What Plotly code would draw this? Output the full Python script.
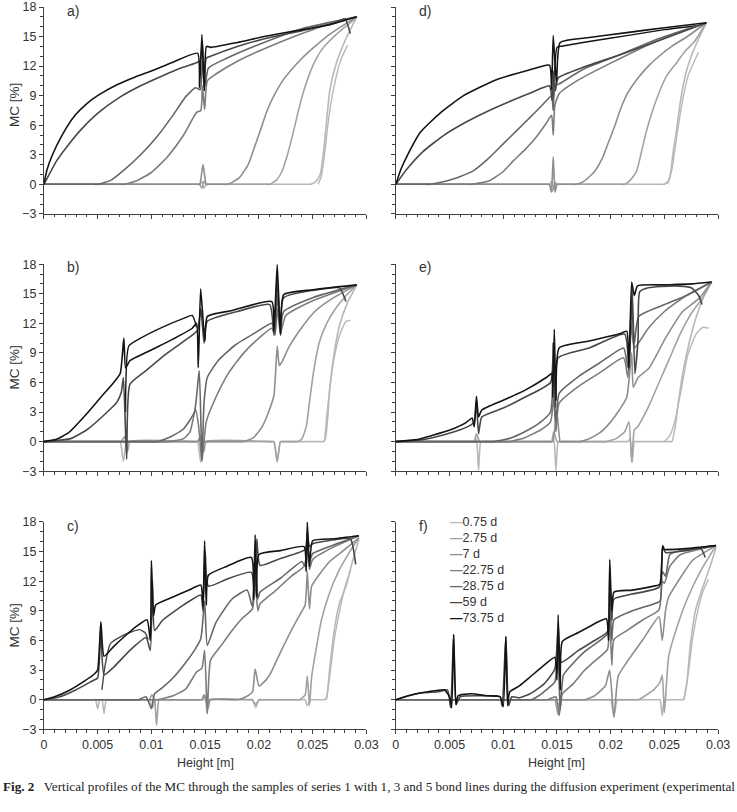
import plotly.graph_objects as go

DAYS = ["0.75 d", "2.75 d", "7 d", "22.75 d", "28.75 d", "59 d", "73.75 d"]
COLORS = ["#b8b8b8", "#a2a2a2", "#8e8e8e", "#7c7c7c", "#676767", "#484848", "#141414"]
X_TICKS = [0, 0.005, 0.01, 0.015, 0.02, 0.025, 0.03]
Y_TICKS = [-3, 0, 3, 6, 9, 12, 15, 18]

# ---------------- panel a (1 bond line) ----------------
A_X_075 = [0, 0.0143, 0.0145, 0.0147, 0.0149, 0.0151, 0.0153, 0.0246, 0.0248, 0.0253, 0.0257, 0.0260, 0.0263, 0.0266, 0.0272, 0.0281, 0.0291]
A_Y_075 = [0, 0, 0, 0.3, -0.4, 0, 0, 0, 0, 0.3, 1.0, 3.2, 6.5, 9.6, 12.3, 14.8, 17.0]
A_XM_075 = [0.0255, 0.0258, 0.0261, 0.0265, 0.0270, 0.0276, 0.02824]
A_YM_075 = [0, 0.8, 3.0, 6.8, 10.0, 12.6, 14.1]
A_X_275 = [0, 0.0143, 0.0145, 0.0147, 0.0149, 0.0151, 0.0153, 0.0207, 0.0210, 0.0216, 0.0221, 0.0226, 0.0232, 0.0237, 0.0242, 0.0250, 0.0258, 0.0266, 0.0276, 0.0284, 0.0291]
A_Y_275 = [0, 0, 0, -0.4, 0.3, 0, 0, 0, 0, 0.4, 1.2, 2.8, 5.3, 7.6, 9.6, 12.0, 13.6, 14.6, 15.6, 16.3, 17.0]
A_X_7 = [0, 0.0143, 0.0145, 0.0148, 0.0151, 0.0153, 0.0168, 0.0171, 0.0175, 0.0182, 0.0190, 0.0196, 0.0202, 0.0208, 0.0214, 0.0222, 0.0230, 0.0240, 0.0251, 0.0263, 0.0275, 0.0291]
A_Y_7 = [0, 0, 0, 2.0, 0, 0, 0, 0, 0.2, 0.7, 2.0, 3.8, 5.7, 7.6, 9.0, 10.5, 11.6, 12.8, 13.9, 15.0, 15.9, 17.0]
A_X_2275 = [0, 0.0072, 0.0075, 0.0085, 0.0100, 0.0115, 0.0130, 0.0142, 0.0146, 0.01475, 0.01495, 0.0152, 0.0160, 0.0180, 0.0210, 0.0250, 0.0291]
A_Y_2275 = [0, 0, 0, 0.3, 1.2, 2.8, 5.0, 7.3, 7.5, 10.0, 7.6, 10.5, 11.2, 12.5, 14.0, 15.7, 17.0]
A_X_2875 = [0, 0.0047, 0.0050, 0.0062, 0.0075, 0.0090, 0.0105, 0.0120, 0.0132, 0.0141, 0.01455, 0.01475, 0.0150, 0.0153, 0.0170, 0.0200, 0.0240, 0.0291]
A_Y_2875 = [0, 0, 0, 0.4, 1.5, 3.0, 4.8, 7.0, 8.9, 9.8, 9.6, 12.5, 10.0, 11.8, 12.8, 14.2, 15.8, 17.0]
A_X_59 = [0, 0.0005, 0.0012, 0.0022, 0.0035, 0.0050, 0.0070, 0.0090, 0.0110, 0.0130, 0.0143, 0.01455, 0.01475, 0.0149, 0.0151, 0.0155, 0.0180, 0.0210, 0.0240, 0.0270, 0.0280, 0.0285]
A_Y_59 = [0, 1.0, 2.4, 3.9, 5.6, 7.2, 8.8, 10.0, 11.0, 11.9, 12.4, 12.6, 14.5, 9.8, 12.8, 13.0, 14.0, 14.9, 15.6, 16.4, 16.8, 15.3]
A_X_7375 = [0, 0.0003, 0.0008, 0.0017, 0.0029, 0.0040, 0.0050, 0.0068, 0.0085, 0.0100, 0.0120, 0.0143, 0.01448, 0.0147, 0.01492, 0.01512, 0.0155, 0.0180, 0.0205, 0.0235, 0.0266, 0.0291]
A_Y_7375 = [0, 1.5, 3.0, 5.0, 7.0, 8.2, 9.0, 10.1, 10.9, 11.5, 12.4, 13.3, 9.8, 15.2, 9.5, 14.0, 13.9, 14.4, 15.0, 15.6, 16.2, 17.0]

# ---------------- panel b (3 bond lines) ----------------
B_X_075 = [0, 0.0069, 0.0071, 0.0074, 0.0077, 0.0079, 0.0141, 0.0143, 0.01458, 0.0148, 0.0150, 0.0212, 0.0214, 0.0217, 0.0220, 0.0222, 0.0258, 0.0260, 0.0262, 0.0264, 0.0266, 0.0270, 0.0275, 0.0282, 0.0291]
B_Y_075 = [0, 0, 0, -2.0, 0, 0, 0, 0, -2.1, 0, 0, 0, 0, -2.1, 0, 0, 0, 0, 0.4, 2.5, 5.5, 9.0, 11.8, 14.0, 15.9]
B_XM_075 = [0.0261, 0.0263, 0.0266, 0.0270, 0.0275, 0.0281, 0.0285]
B_YM_075 = [0, 2.5, 5.5, 8.5, 10.8, 12.2, 12.3]
B_X_275 = [0, 0.0070, 0.0072, 0.0075, 0.0078, 0.0080, 0.0141, 0.0143, 0.0146, 0.0149, 0.0151, 0.0212, 0.0214, 0.0217, 0.0220, 0.0222, 0.0234, 0.0236, 0.0240, 0.0244, 0.0247, 0.0251, 0.0256, 0.0263, 0.0272, 0.0281, 0.0291]
B_Y_275 = [0, 0, 0, 0.5, -1.0, 0, 0, 0, 0.3, -1.0, 0, 0, 0, -2.0, 0, 0, 0, 0, 0.3, 1.5, 4.0, 7.2, 10.0, 12.0, 13.6, 14.8, 15.9]
B_X_7 = [0, 0.0141, 0.0143, 0.0146, 0.0149, 0.0151, 0.0183, 0.0186, 0.0195, 0.0203, 0.0209, 0.0214, 0.0217, 0.0219, 0.0222, 0.0228, 0.0238, 0.0252, 0.0268, 0.0291]
B_Y_7 = [0, 0, 0, 0.6, 0, 0, 0, 0, 0.4, 1.5, 3.0, 4.7, 9.7, 7.7, 8.2, 9.6, 11.3, 13.2, 14.5, 15.9]
B_X_2275 = [0, 0.0113, 0.0116, 0.0130, 0.0136, 0.0141, 0.0144, 0.0147, 0.0151, 0.0160, 0.0172, 0.0186, 0.0200, 0.0212, 0.0215, 0.0217, 0.0220, 0.0225, 0.0250, 0.0291]
B_Y_2275 = [0, 0, 0, 0.3, 1.0, 3.3, 1.5, -2.0, 2.0, 4.5, 7.0, 9.0, 10.5, 11.5, 10.8, 13.5, 11.0, 12.8, 14.3, 15.9]
B_X_2875 = [0, 0.0103, 0.0106, 0.0118, 0.0130, 0.0140, 0.01445, 0.0147, 0.0149, 0.0152, 0.0162, 0.0178, 0.0196, 0.0212, 0.0215, 0.0217, 0.0220, 0.0223, 0.0250, 0.0291]
B_Y_2875 = [0, 0, 0, 0.5, 1.3, 3.0, 7.2, -1.9, 4.0, 6.5, 8.2, 9.8, 11.0, 12.0, 11.0, 15.0, 11.5, 13.2, 14.6, 15.9]
B_X_59 = [0, 0.0025, 0.0040, 0.0055, 0.0068, 0.0072, 0.0074, 0.0077, 0.0080, 0.0095, 0.0115, 0.0138, 0.0143, 0.0146, 0.0149, 0.0152, 0.0180, 0.0210, 0.0214, 0.0217, 0.0220, 0.0223, 0.0260, 0.0275, 0.0281]
B_Y_59 = [0, 0.3, 1.2, 2.6, 4.0, 5.0, 6.5, -1.8, 5.8, 7.2, 9.0, 10.8, 11.3, 13.5, 10.0, 12.2, 13.2, 13.9, 10.8, 16.5, 10.8, 14.6, 15.5, 15.6, 14.2]
B_X_7375 = [0, 0.0011, 0.0023, 0.0038, 0.0053, 0.0065, 0.0071, 0.00744, 0.0076, 0.0080, 0.0100, 0.0120, 0.0138, 0.0142, 0.01436, 0.01458, 0.01497, 0.0152, 0.0175, 0.0212, 0.0214, 0.0217, 0.0220, 0.0223, 0.0250, 0.0291]
B_Y_7375 = [0, 0.2, 0.9, 2.6, 4.5, 6.0, 6.9, 10.5, 7.5, 8.2, 9.3, 10.4, 11.5, 12.0, 7.5, 15.5, 10.2, 12.7, 13.3, 14.2, 11.2, 18.0, 10.9, 14.9, 15.4, 15.9]
B_XM_7375 = [0.0076, 0.0079, 0.0090, 0.0110, 0.0130, 0.0138, 0.0142]
B_YM_7375 = [3.0, 9.7, 10.5, 11.6, 12.5, 12.8, 11.6]

# ---------------- panel c (5 bond lines) ----------------
C_X_075 = [0, 0.0046, 0.0048, 0.0050, 0.0052, 0.0054, 0.0056, 0.0058, 0.0060, 0.0096, 0.0098, 0.0101, 0.0104, 0.0106, 0.0145, 0.0147, 0.0150, 0.01518, 0.0154, 0.0156, 0.0192, 0.0194, 0.0197, 0.0200, 0.0202, 0.0241, 0.0243, 0.0245, 0.0248, 0.0250, 0.0259, 0.0261, 0.0263, 0.0266, 0.0270, 0.0275, 0.0281, 0.0287, 0.0293]
C_Y_075 = [0, 0, 0, -0.9, 0, 0, -1.4, 0, 0, 0, 0, -0.8, 0, 0, 0, 0, 0, -1.4, 0, 0, 0, 0, -0.8, 0, 0, 0, 0, -0.6, 0, 0, 0, 0, 0.3, 3.3, 7.0, 9.8, 11.5, 14.0, 16.2]
C_XM_075 = [0.0263, 0.0266, 0.0270, 0.0276, 0.0281, 0.02854]
C_YM_075 = [0, 2.5, 6.0, 9.5, 11.8, 13.1]
C_X_275 = [0, 0.0096, 0.0098, 0.01005, 0.0103, 0.01048, 0.0107, 0.0109, 0.0145, 0.0147, 0.0150, 0.0153, 0.0155, 0.0192, 0.0194, 0.0197, 0.0200, 0.0202, 0.0236, 0.0238, 0.0243, 0.0245, 0.0247, 0.0249, 0.0253, 0.0258, 0.0265, 0.0274, 0.0284, 0.0293]
C_Y_275 = [0, 0, 0, 0.5, 0, -2.6, 0, 0, 0, 0, 0.4, -0.8, 0, 0, 0, -0.5, 0, 0, 0, 0, 0.5, 2.4, -0.6, 2.3, 5.0, 8.0, 10.6, 13.0, 14.9, 16.4]
C_X_7 = [0, 0.0145, 0.0147, 0.0149, 0.0152, 0.0154, 0.0178, 0.0181, 0.0188, 0.0194, 0.01965, 0.0200, 0.0203, 0.0210, 0.0220, 0.0230, 0.0238, 0.0243, 0.0245, 0.0247, 0.0249, 0.0255, 0.0265, 0.0275, 0.0293]
C_Y_7 = [0, 0, 0, 0.5, -0.4, 0, 0, 0, 0.3, 0.8, 3.1, 1.4, 1.6, 2.5, 4.8, 7.0, 8.6, 9.6, 13.0, 9.2, 11.5, 12.5, 13.9, 14.8, 16.4]
C_X_2275 = [0, 0.0103, 0.0106, 0.0120, 0.0132, 0.0142, 0.0147, 0.01495, 0.0152, 0.0155, 0.0165, 0.0175, 0.0185, 0.0194, 0.01965, 0.0199, 0.0201, 0.0215, 0.0230, 0.0242, 0.0245, 0.0247, 0.0250, 0.0270, 0.0293]
C_Y_2275 = [0, 0, 0, 0.4, 1.1, 2.8, 3.2, 5.0, -1.4, 4.0, 5.5, 7.0, 8.3, 9.2, 12.0, 9.0, 9.7, 11.0, 12.5, 13.5, 15.0, 13.2, 14.2, 15.5, 16.6]
C_X_2875 = [0, 0.0086, 0.0088, 0.0095, 0.0100, 0.0103, 0.0110, 0.0120, 0.0130, 0.0140, 0.0146, 0.01495, 0.0152, 0.0160, 0.0175, 0.0189, 0.0194, 0.01965, 0.0199, 0.0201, 0.0220, 0.0240, 0.0243, 0.0245, 0.0247, 0.0250, 0.0270, 0.0293]
C_Y_2875 = [0, 0, 0, 0.3, -0.9, 0.6, 1.2, 2.2, 3.5, 5.0, 6.2, 10.0, 5.5, 7.8, 10.2, 11.1, 9.4, 14.0, 10.2, 10.9, 12.3, 14.0, 13.5, 16.0, 14.0, 14.8, 15.7, 16.6]
C_X_59 = [0, 0.0015, 0.0030, 0.0045, 0.0050, 0.0053, 0.0056, 0.0065, 0.0080, 0.0095, 0.0099, 0.0101, 0.0103, 0.0110, 0.0130, 0.0146, 0.0148, 0.0150, 0.0153, 0.0170, 0.0193, 0.0196, 0.0198, 0.0201, 0.0220, 0.0243, 0.0245, 0.0247, 0.0250, 0.0270, 0.0285, 0.0290]
C_Y_59 = [0, 0.3, 1.0, 1.9, 2.2, 7.0, 2.5, 3.3, 5.0, 6.3, 5.0, 12.0, 7.0, 8.0, 9.6, 10.6, 9.0, 15.0, 11.5, 12.2, 12.9, 10.5, 16.3, 13.6, 14.3, 15.2, 17.0, 15.5, 15.8, 16.2, 16.3, 13.7]
C_XM_59 = [0.0054, 0.0057, 0.0062, 0.0075, 0.0089, 0.0094, 0.0097]
C_YM_59 = [1.0, 3.5, 5.7, 6.6, 7.1, 6.8, 6.1]
C_X_7375 = [0, 0.0010, 0.0023, 0.0038, 0.0047, 0.0050, 0.0053, 0.0056, 0.0065, 0.0075, 0.0087, 0.0096, 0.0099, 0.0100, 0.0102, 0.0104, 0.0120, 0.0135, 0.0146, 0.0148, 0.01495, 0.0151, 0.0153, 0.0170, 0.0193, 0.0195, 0.01965, 0.0198, 0.0200, 0.0220, 0.0242, 0.0244, 0.0245, 0.0247, 0.0250, 0.0270, 0.0293]
C_Y_7375 = [0, 0.3, 0.9, 1.9, 2.6, 3.0, 7.9, 4.4, 5.4, 6.4, 7.5, 8.1, 6.0, 14.1, 8.5, 9.6, 10.4, 11.1, 11.6, 9.4, 16.1, 9.6, 12.6, 13.5, 14.4, 10.1, 16.7, 10.4, 14.7, 15.1, 15.5, 13.0, 18.0, 13.5, 16.1, 16.3, 16.6]

# ---------------- panel d (1 bond line) ----------------
D_X_075 = [0, 0.0141, 0.0143, 0.0145, 0.0147, 0.0149, 0.0151, 0.0248, 0.0250, 0.0254, 0.0256, 0.0258, 0.0261, 0.0265, 0.0270, 0.0276, 0.0282, 0.0289]
D_Y_075 = [0, 0, 0, 0.3, -0.5, 0, 0, 0, 0, 0.4, 1.3, 3.2, 5.3, 8.5, 11.3, 13.3, 14.8, 16.4]
D_XM_075 = [0.0253, 0.0257, 0.0261, 0.0266, 0.0272, 0.02817]
D_YM_075 = [0, 1.5, 4.5, 8.0, 11.0, 13.4]
D_X_275 = [0, 0.0141, 0.0143, 0.0146, 0.0148, 0.0150, 0.0152, 0.0210, 0.0213, 0.0218, 0.0224, 0.0228, 0.0233, 0.0239, 0.0245, 0.0252, 0.0261, 0.0270, 0.0278, 0.0289]
D_Y_275 = [0, 0, 0, -0.7, 0.2, 0, 0, 0, 0, 0.4, 1.3, 3.0, 5.3, 7.5, 9.3, 11.0, 12.3, 13.6, 14.5, 16.4]
D_X_7 = [0, 0.0141, 0.0143, 0.01448, 0.01465, 0.01482, 0.0150, 0.0152, 0.0165, 0.0168, 0.0175, 0.0185, 0.0192, 0.0197, 0.0204, 0.0209, 0.0216, 0.0224, 0.0235, 0.0245, 0.0258, 0.0270, 0.0289]
D_Y_7 = [0, 0, 0, -0.8, 2.8, -0.8, 0, 0, 0, 0, 0.3, 1.3, 2.6, 4.0, 6.0, 7.6, 9.3, 10.6, 12.0, 13.0, 14.1, 14.9, 16.4]
D_X_2275 = [0, 0.0068, 0.0071, 0.0087, 0.0100, 0.0109, 0.0120, 0.0130, 0.0140, 0.0145, 0.01465, 0.0148, 0.0152, 0.0170, 0.0200, 0.0240, 0.0289]
D_Y_2275 = [0, 0, 0, 0.36, 1.3, 2.35, 3.5, 4.7, 6.2, 7.0, 5.0, 8.0, 9.2, 10.6, 12.3, 14.4, 16.4]
D_X_2875 = [0, 0.0028, 0.0031, 0.0048, 0.0060, 0.0072, 0.0085, 0.0099, 0.0112, 0.0124, 0.0136, 0.0145, 0.01465, 0.0148, 0.0152, 0.0175, 0.0205, 0.0245, 0.0289]
D_Y_2875 = [0, 0, 0, 0.36, 0.8, 1.36, 2.5, 4.0, 5.4, 6.7, 8.0, 9.0, 7.5, 10.0, 10.2, 11.7, 13.0, 14.8, 16.4]
D_X_59 = [0, 0.0010, 0.0025, 0.0045, 0.0065, 0.0085, 0.0108, 0.0128, 0.0143, 0.01455, 0.0147, 0.01485, 0.0151, 0.0175, 0.0210, 0.0250, 0.0289]
D_Y_59 = [0, 1.5, 3.3, 5.0, 6.3, 7.4, 8.5, 9.4, 10.0, 8.5, 11.5, 9.5, 10.8, 11.9, 13.2, 14.8, 16.4]
D_X_7375 = [0, 0.0005, 0.0011, 0.0023, 0.0042, 0.0063, 0.0093, 0.0124, 0.0143, 0.0145, 0.01465, 0.01495, 0.0153, 0.0180, 0.0215, 0.0250, 0.0289]
D_Y_7375 = [0, 1.6, 3.0, 5.3, 7.3, 9.0, 10.6, 11.6, 12.1, 9.6, 15.1, 10.3, 14.4, 14.9, 15.4, 15.9, 16.4]
D_XM_7375 = [0.0147, 0.0150, 0.0153, 0.0180, 0.0215, 0.0250, 0.0280]
D_YM_7375 = [9.0, 13.9, 14.0, 14.5, 15.1, 15.7, 16.1]

# ---------------- panel e (3 bond lines) ----------------
E_X_075 = [0, 0.0071, 0.0073, 0.0075, 0.0077, 0.0079, 0.0081, 0.0143, 0.0145, 0.0147, 0.0149, 0.0151, 0.0153, 0.0214, 0.0216, 0.0218, 0.0220, 0.0222, 0.0224, 0.0255, 0.0257, 0.0260, 0.0263, 0.0268, 0.0273, 0.0280, 0.0287, 0.0294]
E_Y_075 = [0, 0, 0, 0.3, -2.9, 0, 0, 0, 0, 0.3, -2.9, 0, 0, 0, 0, 0.3, -2.1, 0, 0, 0, 0, 1.5, 4.0, 7.5, 10.0, 12.8, 14.8, 16.2]
E_XM_075 = [0.0250, 0.0255, 0.0260, 0.0266, 0.0272, 0.0280, 0.0286, 0.0291]
E_YM_075 = [0, 0.6, 2.2, 5.5, 8.9, 11.0, 11.6, 11.5]
E_X_275 = [0, 0.0071, 0.0073, 0.0075, 0.0078, 0.0080, 0.0143, 0.0145, 0.0147, 0.0150, 0.0152, 0.0193, 0.0196, 0.0205, 0.0213, 0.0217, 0.02195, 0.0222, 0.0225, 0.0235, 0.0245, 0.0255, 0.0265, 0.0275, 0.0285, 0.0294]
E_Y_275 = [0, 0, 0, 0.8, 0, 0, 0, 0, 1.0, 0, 0, 0, 0, 0.3, 1.0, 2.0, -2.1, 1.2, 1.5, 3.5, 6.0, 8.5, 11.0, 13.0, 14.5, 16.2]
E_X_7 = [0, 0.0144, 0.0146, 0.0150, 0.0153, 0.0155, 0.0168, 0.0171, 0.0180, 0.0190, 0.0200, 0.0208, 0.0215, 0.02195, 0.0221, 0.02255, 0.0236, 0.0251, 0.0267, 0.0282, 0.0294]
E_Y_7 = [0, 0, 0, 2.9, 0, 0, 0, 0, 0.3, 0.9, 2.0, 3.2, 4.5, 9.0, 5.5, 6.5, 7.5, 10.5, 13.2, 14.5, 16.2]
E_X_2275 = [0, 0.0103, 0.0106, 0.0120, 0.0135, 0.0144, 0.0147, 0.0149, 0.0152, 0.0170, 0.0190, 0.0212, 0.0216, 0.0219, 0.0222, 0.0235, 0.0250, 0.0270, 0.0294]
E_Y_2275 = [0, 0, 0, 0.4, 1.2, 2.0, 4.5, 1.0, 3.9, 5.6, 7.0, 8.5, 6.5, 12.0, 9.5, 11.5, 13.2, 14.8, 16.2]
E_X_2875 = [0, 0.0088, 0.0091, 0.0105, 0.0120, 0.0135, 0.0144, 0.01465, 0.0149, 0.0152, 0.0170, 0.0190, 0.0212, 0.0216, 0.02195, 0.0222, 0.0226, 0.0250, 0.0270, 0.0294]
E_Y_2875 = [0, 0, 0, 0.3, 1.0, 2.0, 3.0, 6.0, 2.0, 4.9, 6.6, 8.0, 9.5, 7.5, 14.0, 10.0, 12.7, 13.9, 14.8, 16.2]
E_X_59 = [0, 0.0025, 0.0045, 0.0060, 0.0070, 0.0073, 0.0075, 0.0077, 0.0080, 0.0100, 0.0120, 0.0144, 0.01465, 0.01485, 0.0151, 0.0180, 0.0213, 0.0217, 0.0220, 0.02225, 0.02255, 0.0227, 0.0235, 0.0260, 0.0275, 0.0282, 0.0285]
E_Y_59 = [0, 0.2, 0.7, 1.2, 1.7, 2.0, 4.0, 0.8, 2.5, 3.4, 4.5, 6.0, 10.0, 3.5, 8.5, 9.5, 10.9, 7.3, 15.5, 6.9, 10.5, 15.2, 15.6, 15.8, 15.6, 14.8, 13.9]
E_X_7375 = [0, 0.0020, 0.0033, 0.0051, 0.0065, 0.0071, 0.0073, 0.0075, 0.0077, 0.0080, 0.0100, 0.0120, 0.0140, 0.0145, 0.0146, 0.01475, 0.0149, 0.0152, 0.0180, 0.0210, 0.0215, 0.0217, 0.02195, 0.0222, 0.0225, 0.0250, 0.0275, 0.0294]
E_Y_7375 = [0, 0.2, 0.6, 1.2, 1.9, 2.4, 1.5, 4.6, 2.5, 3.2, 4.2, 5.2, 6.5, 6.9, 4.5, 11.4, 4.2, 9.5, 10.2, 11.0, 11.2, 7.5, 16.2, 14.8, 15.8, 15.9, 16.0, 16.2]

# ---------------- panel f (5 bond lines) ----------------
F_X_075 = [0, 0.0147, 0.0149, 0.0151, 0.0154, 0.0156, 0.0198, 0.0200, 0.0203, 0.0206, 0.0208, 0.0244, 0.0246, 0.0248, 0.0250, 0.0252, 0.0266, 0.0268, 0.0271, 0.0274, 0.0279, 0.0286, 0.0291, 0.0298]
F_Y_075 = [0, 0, 0, -0.5, 0, 0, 0, 0, -1.7, 0, 0, 0, 0, -1.6, 0, 0, 0, 0, 1.8, 5.4, 9.1, 11.5, 13.0, 15.4]
F_XM_075 = [0.0268, 0.0272, 0.0276, 0.0281, 0.0286, 0.0291]
F_YM_075 = [0, 2.5, 6.0, 9.0, 11.0, 12.2]
F_X_275 = [0, 0.0146, 0.0148, 0.0151, 0.0153, 0.0155, 0.0223, 0.0226, 0.0232, 0.0240, 0.0246, 0.0248, 0.0250, 0.0254, 0.0263, 0.0272, 0.0284, 0.0298]
F_Y_275 = [0, 0, 0, -1.5, 0, 0, 0, 0, 0.4, 1.0, 1.8, 2.5, -1.3, 4.4, 7.8, 10.4, 13.1, 15.6]
F_X_7 = [0, 0.0173, 0.0176, 0.0185, 0.0195, 0.0199, 0.0203, 0.0207, 0.0215, 0.0230, 0.0245, 0.0248, 0.0251, 0.0254, 0.0267, 0.0276, 0.0298]
F_Y_7 = [0, 0, 0, 0.4, 1.4, 3.0, -1.8, 2.4, 3.8, 6.1, 8.4, 6.0, 9.0, 10.4, 12.7, 14.1, 15.6]
F_X_2275 = [0, 0.0138, 0.0141, 0.0149, 0.0152, 0.0155, 0.0165, 0.0175, 0.0185, 0.0197, 0.0199, 0.0201, 0.0203, 0.0215, 0.0230, 0.0245, 0.0248, 0.0250, 0.0255, 0.0265, 0.0298]
F_Y_2275 = [0, 0, 0, 0.3, -1.6, 0.6, 1.6, 2.9, 3.9, 5.1, 9.0, 3.5, 6.1, 7.0, 8.1, 9.1, 12.0, 11.8, 13.5, 14.7, 15.6]
F_X_2875 = [0, 0.0123, 0.0126, 0.0133, 0.0140, 0.0148, 0.0151, 0.0153, 0.0156, 0.0165, 0.0175, 0.0185, 0.0197, 0.0199, 0.0201, 0.0203, 0.0220, 0.0240, 0.0246, 0.0248, 0.0251, 0.0255, 0.0262, 0.0298]
F_Y_2875 = [0, 0, 0, 0.4, 1.0, 1.8, 4.5, -1.0, 2.5, 3.7, 4.8, 5.6, 6.7, 11.0, 6.0, 8.1, 9.0, 9.7, 10.0, 13.0, 12.5, 14.7, 15.0, 15.6]
F_X_59 = [0, 0.0012, 0.0025, 0.0040, 0.0048, 0.0051, 0.00538, 0.0056, 0.0060, 0.0080, 0.0097, 0.0099, 0.01024, 0.0105, 0.0108, 0.0115, 0.0125, 0.0138, 0.0148, 0.01511, 0.0154, 0.0170, 0.0185, 0.0197, 0.01991, 0.0201, 0.0203, 0.0220, 0.0245, 0.02483, 0.0251, 0.0270, 0.0284, 0.0288]
F_Y_59 = [0, 0.4, 0.7, 0.8, 1.0, -0.8, 6.6, -0.5, 0.3, 0.4, 0.3, -0.7, 6.4, -0.6, 0.3, 0.2, 0.6, 1.6, 3.1, 7.5, 3.8, 5.0, 6.0, 6.9, 12.5, 8.0, 10.2, 10.7, 11.4, 15.4, 14.9, 15.1, 15.3, 14.4]
F_X_7375 = [0, 0.0015, 0.0030, 0.0045, 0.0050, 0.0052, 0.00538, 0.0056, 0.0058, 0.0070, 0.0085, 0.0097, 0.0100, 0.01024, 0.0104, 0.0106, 0.0115, 0.0125, 0.0138, 0.0148, 0.0150, 0.01511, 0.0153, 0.0155, 0.0170, 0.0185, 0.0196, 0.0198, 0.01991, 0.0201, 0.0203, 0.0220, 0.0240, 0.0246, 0.02483, 0.0250, 0.0252, 0.0270, 0.0298]
F_Y_7375 = [0, 0.5, 0.8, 1.0, 0.3, -0.8, 6.6, -0.5, 0.4, 0.6, 0.4, 0.3, -0.7, 6.4, -0.6, 0.8, 1.4, 2.3, 3.5, 4.3, 2.0, 8.6, 1.0, 5.9, 6.8, 7.7, 8.2, 6.0, 14.2, 9.0, 10.9, 11.1, 11.5, 11.7, 15.6, 15.2, 15.2, 15.3, 15.6]

PANELS = [
    dict(label="a)", row=0, col=0,
         series=[(A_X_075, A_Y_075), (A_X_275, A_Y_275), (A_X_7, A_Y_7), (A_X_2275, A_Y_2275),
                 (A_X_2875, A_Y_2875), (A_X_59, A_Y_59), (A_X_7375, A_Y_7375)],
         extra=[(0, A_XM_075, A_YM_075)]),
    dict(label="b)", row=1, col=0,
         series=[(B_X_075, B_Y_075), (B_X_275, B_Y_275), (B_X_7, B_Y_7), (B_X_2275, B_Y_2275),
                 (B_X_2875, B_Y_2875), (B_X_59, B_Y_59), (B_X_7375, B_Y_7375)],
         extra=[(0, B_XM_075, B_YM_075), (6, B_XM_7375, B_YM_7375)]),
    dict(label="c)", row=2, col=0,
         series=[(C_X_075, C_Y_075), (C_X_275, C_Y_275), (C_X_7, C_Y_7), (C_X_2275, C_Y_2275),
                 (C_X_2875, C_Y_2875), (C_X_59, C_Y_59), (C_X_7375, C_Y_7375)],
         extra=[(0, C_XM_075, C_YM_075), (5, C_XM_59, C_YM_59)]),
    dict(label="d)", row=0, col=1,
         series=[(D_X_075, D_Y_075), (D_X_275, D_Y_275), (D_X_7, D_Y_7), (D_X_2275, D_Y_2275),
                 (D_X_2875, D_Y_2875), (D_X_59, D_Y_59), (D_X_7375, D_Y_7375)],
         extra=[(0, D_XM_075, D_YM_075), (6, D_XM_7375, D_YM_7375)]),
    dict(label="e)", row=1, col=1,
         series=[(E_X_075, E_Y_075), (E_X_275, E_Y_275), (E_X_7, E_Y_7), (E_X_2275, E_Y_2275),
                 (E_X_2875, E_Y_2875), (E_X_59, E_Y_59), (E_X_7375, E_Y_7375)],
         extra=[(0, E_XM_075, E_YM_075)]),
    dict(label="f)", row=2, col=1,
         series=[(F_X_075, F_Y_075), (F_X_275, F_Y_275), (F_X_7, F_Y_7), (F_X_2275, F_Y_2275),
                 (F_X_2875, F_Y_2875), (F_X_59, F_Y_59), (F_X_7375, F_Y_7375)],
         extra=[(0, F_XM_075, F_YM_075)]),
]

W, H = 737, 812
COL_PX = [(41.7, 371.0), (401.0, 730.0)]
ROW_PX = [(0.0, 210.5), (261.7, 472.3), (524.0, 735.0)]
TITLE_Y = [100, 367, 629.5]

def px_x(p):
    return p / W

def px_y(p):
    return 1 - p / H

AX_COLOR = "#404040"
TXT_COLOR = "#333333"
FONT = "Liberation Sans, Arial, sans-serif"
LINE = dict(shape="spline", smoothing=0.5)

fig = go.Figure()
layout = {}
for i, pnl in enumerate(PANELS):
    k = i + 1
    xa = "x" if k == 1 else f"x{k}"
    ya = "y" if k == 1 else f"y{k}"
    for extra_idx, ex, ey in pnl["extra"]:
        fig.add_trace(go.Scatter(x=ex, y=ey, mode="lines", xaxis=xa, yaxis=ya,
                                 line=dict(color=COLORS[extra_idx], width=1.4, **LINE),
                                 showlegend=False, hoverinfo="skip"))
    for d, (sx, sy) in enumerate(pnl["series"]):
        fig.add_trace(go.Scatter(x=sx, y=sy, mode="lines", xaxis=xa, yaxis=ya,
                                 name=DAYS[d], line=dict(color=COLORS[d], width=1.6, **LINE),
                                 showlegend=False))
    c0, c1 = COL_PX[pnl["col"]]
    r0, r1 = ROW_PX[pnl["row"]]
    bottom = pnl["row"] == 2
    left = pnl["col"] == 0
    layout["xaxis" if k == 1 else f"xaxis{k}"] = dict(
        domain=[px_x(c0), px_x(c1)], anchor=ya, range=[0, 0.03],
        tickvals=X_TICKS, ticktext=[f"{v:g}" for v in X_TICKS],
        showticklabels=bottom, ticks="outside", ticklen=4, tickwidth=1, tickcolor=AX_COLOR,
        minor=dict(dtick=0.001, tick0=0, ticks="outside", ticklen=2.5, tickwidth=1, tickcolor=AX_COLOR),
        showline=True, linecolor=AX_COLOR, linewidth=1, showgrid=False, zeroline=False,
        tickfont=dict(family=FONT, size=12.5, color=TXT_COLOR), fixedrange=True)
    layout["yaxis" if k == 1 else f"yaxis{k}"] = dict(
        domain=[px_y(r1), px_y(r0)], anchor=xa, range=[-3, 18],
        tickvals=Y_TICKS, showticklabels=left, ticks="outside", ticklen=4, tickwidth=1, tickcolor=AX_COLOR,
        minor=dict(dtick=1, tick0=0, ticks="outside", ticklen=2.5, tickwidth=1, tickcolor=AX_COLOR),
        showline=True, linecolor=AX_COLOR, linewidth=1, showgrid=False, zeroline=False,
        tickfont=dict(family=FONT, size=12.5, color=TXT_COLOR), fixedrange=True)

annotations = []
for pnl in PANELS:
    lx = 63 if pnl["col"] == 0 else 423
    ly = [4, 265, 528.5][pnl["row"]]
    annotations.append(dict(text=pnl["label"], x=px_x(lx), y=px_y(ly), xref="paper", yref="paper",
                            xanchor="left", yanchor="middle", showarrow=False,
                            font=dict(family=FONT, size=14, color=TXT_COLOR)))
for ty in TITLE_Y:
    annotations.append(dict(text="MC [%]", x=px_x(12), y=px_y(ty),
                            xref="paper", yref="paper", textangle=-90, xanchor="center",
                            yanchor="middle", showarrow=False,
                            font=dict(family=FONT, size=13.5, color=TXT_COLOR)))
for c0, c1 in COL_PX:
    annotations.append(dict(text="Height [m]", x=px_x((c0 + c1) / 2), y=px_y(769),
                            xref="paper", yref="paper", xanchor="center", yanchor="middle",
                            showarrow=False, font=dict(family=FONT, size=12.5, color=TXT_COLOR)))
# legend drawn inside panel f
for d, (day, col) in enumerate(zip(DAYS, COLORS)):
    annotations.append(dict(text=f'<span style="color:{col}"><b>\u2014</b></span>{day}',
                            x=px_x(454), y=px_y(524 + d * 16.3), xref="paper", yref="paper",
                            xanchor="left", yanchor="middle", showarrow=False,
                            font=dict(family=FONT, size=12.5, color=TXT_COLOR)))
annotations.append(dict(
    text="<b>Fig. 2</b>\u2002 Vertical profiles of the MC through the samples of series 1 with 1, 3 and 5 bond lines during the diffusion experiment (experimental",
    x=0, xshift=-2, y=px_y(793), xref="paper", yref="paper", xanchor="left", yanchor="middle",
    showarrow=False, font=dict(family="Liberation Serif, Times New Roman, serif", size=13.1, color="#222222")))

fig.update_layout(width=W, height=H, margin=dict(l=0, r=0, t=0, b=0),
                  paper_bgcolor="white", plot_bgcolor="white",
                  annotations=annotations, showlegend=False, **layout)
fig.write_html("out.html")
